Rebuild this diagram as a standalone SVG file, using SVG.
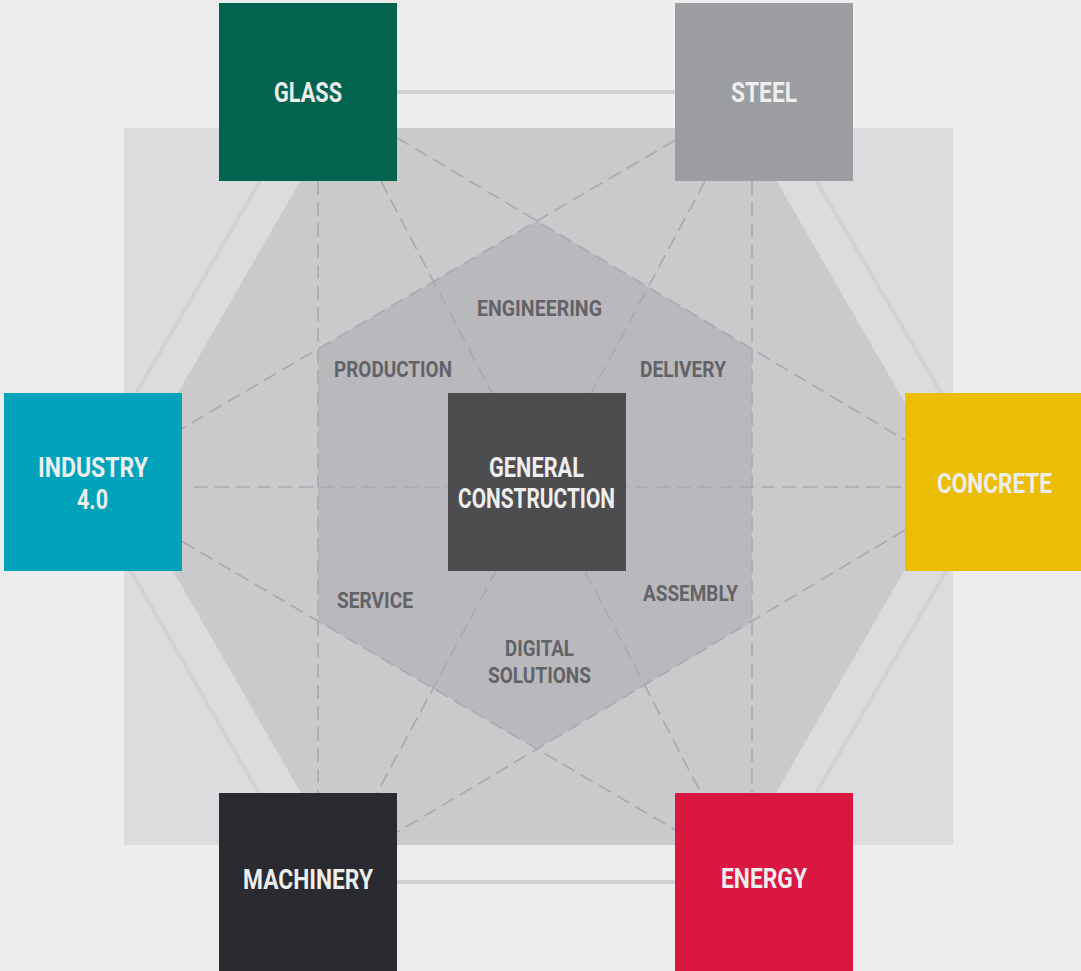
<svg xmlns="http://www.w3.org/2000/svg" width="1081" height="971" viewBox="0 0 1081 971">
<style>
.dash{fill:none;stroke:#ababaf;stroke-width:1.7;stroke-dasharray:14 7}
.solid{fill:none;stroke:#d2d2d4;stroke-width:4}
.nt{font-family:Roboto,"Liberation Sans",sans-serif;font-weight:700;font-size:27px;fill:#eeeeee;text-anchor:middle}
.lt{font-family:Roboto,"Liberation Sans",sans-serif;font-weight:700;font-size:22px;fill:#636367;text-anchor:middle}
</style>
<rect x="0" y="0" width="1081" height="971" fill="#ededed"/>
<g id="background">
<rect x="124" y="128" width="829" height="717" fill="#dcdcde"/>
<polygon points="124,486 331,128 746,128 953,486 746,845 331,845" fill="#cacacc"/>
<polygon points="537,221 752,349 752,621 537,749 318,621 318,349" fill="#b9b8bc"/>
</g>
<g id="connectors">
<polygon class="solid" points="312,92 764,92 996,486 764,882 310,882 82,486"/>
<line class="dash" x1="318" y1="181" x2="318" y2="793"/>
<line class="dash" x1="752" y1="181" x2="752" y2="793"/>
<line class="dash" x1="194" y1="487" x2="905" y2="487"/>
<line class="dash" x1="397" y1="137.7" x2="905" y2="440"/>
<line class="dash" x1="675" y1="140.3" x2="182" y2="428.5"/>
<line class="dash" x1="182" y1="541.5" x2="675" y2="829.7"/>
<line class="dash" x1="905" y1="530" x2="397" y2="832.3"/>
<line class="dash" x1="381" y1="181" x2="701" y2="793"/>
<line class="dash" x1="705" y1="181" x2="377" y2="793"/>
</g>
<g id="labels">
<text class="lt" x="539.5" y="316" textLength="125" lengthAdjust="spacingAndGlyphs">ENGINEERING</text>
<text class="lt" x="393" y="377" textLength="118" lengthAdjust="spacingAndGlyphs">PRODUCTION</text>
<text class="lt" x="683" y="377" textLength="86" lengthAdjust="spacingAndGlyphs">DELIVERY</text>
<text class="lt" x="375" y="608" textLength="76" lengthAdjust="spacingAndGlyphs">SERVICE</text>
<text class="lt" x="690.5" y="601" textLength="95" lengthAdjust="spacingAndGlyphs">ASSEMBLY</text>
<text class="lt" x="539.5" y="656" textLength="69" lengthAdjust="spacingAndGlyphs">DIGITAL</text>
<text class="lt" x="539.5" y="683" textLength="103" lengthAdjust="spacingAndGlyphs">SOLUTIONS</text>
</g>
<g id="glass">
<rect x="219" y="3" width="178" height="178" fill="#02644f"/>
<text class="nt" x="308" y="102" textLength="68" lengthAdjust="spacingAndGlyphs">GLASS</text>
</g>
<g id="steel">
<rect x="675" y="3" width="178" height="178" fill="#9c9da1"/>
<text class="nt" x="764" y="102" textLength="66" lengthAdjust="spacingAndGlyphs">STEEL</text>
</g>
<g id="industry">
<rect x="4" y="393" width="178" height="178" fill="#00a3ba"/>
<text class="nt" x="93" y="477" textLength="110" lengthAdjust="spacingAndGlyphs">INDUSTRY</text>
<text class="nt" x="92.5" y="509" textLength="31" lengthAdjust="spacingAndGlyphs">4.0</text>
</g>
<g id="concrete">
<rect x="905" y="393" width="178" height="178" fill="#ebbd06"/>
<text class="nt" x="994.5" y="493" textLength="115" lengthAdjust="spacingAndGlyphs">CONCRETE</text>
</g>
<g id="machinery">
<rect x="219" y="793" width="178" height="178" fill="#292b30"/>
<text class="nt" x="308" y="889" textLength="130" lengthAdjust="spacingAndGlyphs">MACHINERY</text>
</g>
<g id="energy">
<rect x="675" y="793" width="178" height="178" fill="#da1740"/>
<text class="nt" x="764" y="888" textLength="86" lengthAdjust="spacingAndGlyphs">ENERGY</text>
</g>
<g id="general-construction">
<rect x="448" y="393" width="178" height="178" fill="#4d4d50"/>
<text class="nt" x="536.5" y="477" textLength="95" lengthAdjust="spacingAndGlyphs">GENERAL</text>
<text class="nt" x="536.5" y="508" textLength="157" lengthAdjust="spacingAndGlyphs">CONSTRUCTION</text>
</g>
</svg>
